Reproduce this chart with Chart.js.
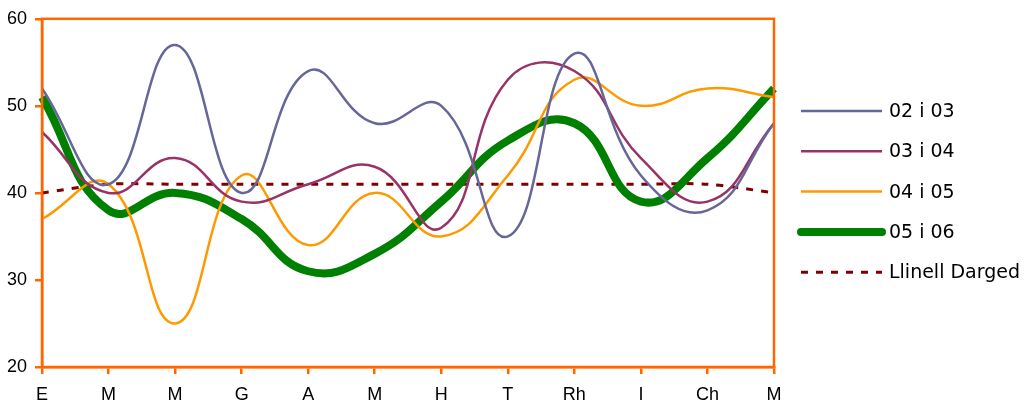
<!DOCTYPE html>
<html>
<head>
<meta charset="utf-8">
<script src="https://cdn.jsdelivr.net/npm/chart.js@4/dist/chart.umd.min.js"></script>
<style>
  html, body { margin: 0; padding: 0; background: #ffffff; }
  #wrap { width: 1031px; height: 408px; }
</style>
</head>
<body>
<div id="wrap"><canvas id="chart" width="1031" height="408"></canvas></div>
<script>
// categories (months) along the bottom
const months = ['E', 'M', 'M', 'G', 'A', 'M', 'H', 'T', 'Rh', 'I', 'Ch', 'M'];

// one series per year pair
const year0203 = [52, 41, 57, 40, 54, 48, 50, 35, 56, 42, 38, 48];
const year0304 = [47, 40, 44, 39, 41, 43, 36, 53, 54, 44, 39, 48];
const year0405 = [37, 41, 25, 42, 34, 40, 35, 42, 53, 50, 52, 51];
const year0506 = [51, 38, 40, 37, 31, 33, 39, 46, 48, 39, 44, 52];
const targetLine = [40, 41, 41, 41, 41, 41, 41, 41, 41, 41, 41, 40];

const seriesNames = ['02 i 03', '03 i 04', '04 i 05', '05 i 06', 'Llinell Darged'];
const yTicks = { min: 20, max: 60, step: 10 };

const ORANGE = '#FF6600';
const tickFont = { family: "'Liberation Sans', Arial, sans-serif", size: 18 };

// frame round the plot area (top and right edges too)
const frameBorder = {
    id: 'frameBorder',
    afterDatasetsDraw(chart) {
        const a = chart.chartArea;
        const ctx = chart.ctx;
        ctx.save();
        ctx.strokeStyle = ORANGE;
        ctx.lineWidth = 2.5;
        ctx.strokeRect(a.left, a.top, a.right - a.left, a.bottom - a.top);
        ctx.restore();
    }
};

// legend drawn at the right, long line samples like the original
const sideLegend = {
    id: 'sideLegend',
    afterDraw(chart) {
        const ctx = chart.ctx;
        const x0 = 801, x1 = 882, tx = 889;
        let y = 111;
        ctx.save();
        chart.data.datasets.forEach(ds => {
            ctx.beginPath();
            ctx.strokeStyle = ds.borderColor;
            ctx.lineWidth = ds.borderWidth;
            ctx.lineCap = ds.borderWidth > 4 ? 'round' : 'butt';
            ctx.setLineDash(ds.borderDash || []);
            ctx.moveTo(x0, y);
            ctx.lineTo(x1, y);
            ctx.stroke();
            ctx.setLineDash([]);
            ctx.fillStyle = '#000';
            ctx.font = '19px "Comic Sans MS", "DejaVu Sans", sans-serif';
            ctx.textBaseline = 'middle';
            ctx.fillText(ds.label, tx, y + 1);
            y += 40.3;
        });
        ctx.restore();
    }
};

function line(label, data, color, width, dash) {
    return {
        label: label,
        data: data,
        borderColor: color,
        backgroundColor: color,
        borderWidth: width,
        borderDash: dash || [],
        pointRadius: 0,
        fill: false,
        tension: 0.45
    };
}

new Chart(document.getElementById('chart'), {
    type: 'line',
    data: {
        labels: months,
        datasets: [
            line(seriesNames[0], year0203, '#666699', 2.5),
            line(seriesNames[1], year0304, '#993366', 2.5),
            line(seriesNames[2], year0405, '#FF9900', 2.5),
            line(seriesNames[3], year0506, '#008000', 8),
            Object.assign(line(seriesNames[4], targetLine, '#800000', 3, [7, 8]), { tension: 0.3 })
        ]
    },
    options: {
        responsive: false,
        animation: false,
        layout: { padding: { top: 13, right: 257, left: 0, bottom: 0 } },
        plugins: {
            legend: { display: false },
            tooltip: { enabled: false }
        },
        scales: {
            x: {
                offset: false,
                grid: {
                    drawOnChartArea: false,
                    color: ORANGE,
                    lineWidth: 2.5,
                    tickLength: 7
                },
                border: { color: ORANGE, width: 2.5 },
                ticks: { color: '#000', font: tickFont, padding: 10, maxRotation: 0, autoSkip: false },
                afterFit(scale) { scale.height = 41; }
            },
            y: {
                min: yTicks.min,
                max: yTicks.max,
                grid: {
                    drawOnChartArea: false,
                    color: ORANGE,
                    lineWidth: 2.5,
                    tickLength: 7
                },
                border: { color: ORANGE, width: 2.5 },
                ticks: { stepSize: yTicks.step, color: '#000', font: tickFont, padding: 8 },
                afterFit(scale) { scale.width = 42; }
            }
        }
    },
    plugins: [frameBorder, sideLegend]
});
</script>
</body>
</html>
